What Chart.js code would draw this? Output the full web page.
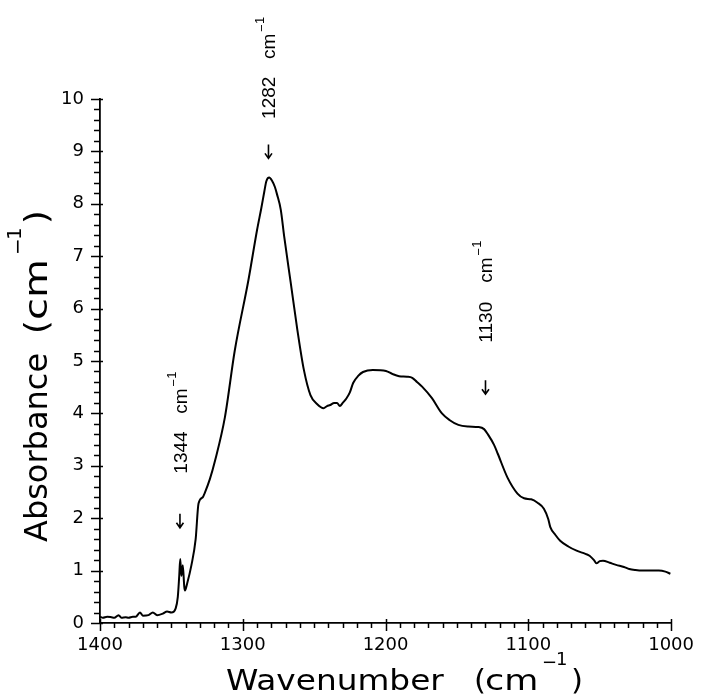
<!DOCTYPE html>
<html>
<head>
<meta charset="utf-8">
<script src="https://cdn.jsdelivr.net/npm/chart.js@4/dist/chart.umd.min.js"></script>
<style>
html,body{margin:0;padding:0;background:#fff;}
#wrap{width:706px;height:694px;position:relative;}
</style>
</head>
<body>
<div id="wrap"><canvas id="c" width="706" height="694"></canvas></div>
<script>
// Wavenumber (cm^-1) of each sampled point
const wavenumber = [
 1400,1398,1395,1392,1390,1387,1385,1382,1380,1377,1375,1372,1370,1366,1363,1360,1356,1353,1350,1347,
 1345.5,1344.5,1343.8,1343,1342,1341,1340.5,1339,1336,1333,1331,1328,1326.8,1323,1319.4,1312.5,1305.6,1296,1290,1287,
 1285,1283.5,1281.5,1279.5,1277.5,1276,1273.4,1271,1266.4,1261.8,1257.2,1252.6,1248,1243.4,1241,1238.8,1236,1234,1232,
 1230,1227.3,1225,1222.7,1219,1215.8,1208.9,1199.7,1195,1190.5,1185,1181.3,1178,1174.4,1167.5,1160.5,1155,1149,1142,1135,
 1131,1128.3,1124,1121.4,1114.5,1107.6,1103,1098,1093.8,1089.1,1086,1084.6,1081,1077.7,1072,1066.2,1060,1056.9,1054,1052.3,
 1050,1047.7,1043,1038.5,1033,1029.3,1025,1020,1014,1008.6,1004,1000.5
];
// Absorbance (cm^-1)
const absorbance = [
 0.12,0.10,0.12,0.11,0.10,0.15,0.10,0.11,0.10,0.12,0.12,0.20,0.14,0.15,0.20,0.15,0.18,0.22,0.20,0.28,
 0.50,0.90,1.22,0.90,1.10,0.70,0.62,0.75,1.10,1.60,2.28,2.40,2.47,2.75,3.10,3.93,5.20,6.55,7.50,7.92,
 8.22,8.43,8.50,8.44,8.32,8.18,7.89,7.38,6.49,5.60,4.83,4.35,4.18,4.10,4.14,4.16,4.20,4.20,4.14,
 4.20,4.29,4.40,4.58,4.72,4.79,4.83,4.81,4.75,4.71,4.70,4.68,4.60,4.51,4.29,4.00,3.87,3.78,3.75,3.74,
 3.70,3.60,3.40,3.23,2.77,2.47,2.38,2.36,2.30,2.18,1.98,1.83,1.68,1.57,1.46,1.38,1.32,1.28,1.20,1.14,
 1.18,1.19,1.15,1.11,1.07,1.03,1.01,1.00,1.00,1.00,0.98,0.94
];
// Annotated bands
const bandLabels = ['1344', '1282', '1130'];
const bandWavenumber = [1344, 1282, 1130];
const arrowAbsorbance = [1.95, 9.0, 4.5];   // level of arrow centre
const labelAbsorbance = [2.85, 9.62, 5.35]; // level where rotated label starts

const xRange = [1000, 1400];
const yRange = [0, 10];

const points = wavenumber.map((w, i) => ({x: w, y: absorbance[i]}));

function isMajor(v, step) {
  const r = v / step;
  return Math.abs(r - Math.round(r)) < 1e-6;
}

// draw a sequence of text parts along a baseline: each part {t, size, at (advance from start), up (raise), sx}
function drawParts(ctx, family, parts) {
  parts.forEach(p => {
    ctx.save();
    ctx.translate(p.at, -(p.up || 0));
    ctx.scale(p.sx || 1, 1);
    ctx.font = p.size + 'px ' + family;
    ctx.fillText(p.t, 0, 0);
    ctx.restore();
  });
}

const tickMarks = {
  id: 'tickMarks',
  afterDraw(chart) {
    const {ctx, chartArea, scales: {x, y}} = chart;
    ctx.save();
    ctx.strokeStyle = '#000';
    ctx.fillStyle = '#000';
    ctx.lineWidth = 1.5;
    ctx.beginPath();
    x.ticks.forEach(t => {
      const px = Math.round(x.getPixelForValue(t.value)) + 0.5;
      const major = isMajor(t.value, 100);
      ctx.moveTo(px, chartArea.bottom - (major ? 4 : 0));
      ctx.lineTo(px, chartArea.bottom + (major ? 8 : 5));
    });
    y.ticks.forEach(t => {
      const py = Math.round(y.getPixelForValue(t.value)) + 0.5;
      const major = isMajor(t.value, 1);
      ctx.moveTo(chartArea.left - (major ? 9 : 6), py);
      ctx.lineTo(chartArea.left + (major ? 3 : 0), py);
    });
    ctx.stroke();

    ctx.textAlign = 'left';
    ctx.textBaseline = 'alphabetic';

    // x axis title
    ctx.save();
    ctx.translate(226, 690);
    drawParts(ctx, '"DejaVu Sans"', [
      {t: 'Wavenumber', size: 28, at: 0, sx: 1.17},
      {t: '(', size: 28, at: 248, sx: 1.1},
      {t: 'cm', size: 28, at: 259, sx: 1.25},
      {t: '\u2212', size: 18, at: 316, up: 22},
      {t: '1', size: 18, at: 330, up: 25},
      {t: ')', size: 28, at: 345, sx: 1.1}
    ]);
    ctx.restore();

    // y axis title
    ctx.save();
    ctx.translate(47, 542);
    ctx.rotate(-Math.PI / 2);
    drawParts(ctx, '"DejaVu Sans"', [
      {t: 'Absorbance', size: 32, at: 0, sx: 1.0},
      {t: '(', size: 32, at: 208, sx: 1.1},
      {t: 'cm', size: 32, at: 222, sx: 1.25},
      {t: '\u2212', size: 20, at: 287, up: 23},
      {t: '1', size: 20, at: 302, up: 26},
      {t: ')', size: 32, at: 318, sx: 1.1}
    ]);
    ctx.restore();

    // band annotations
    bandLabels.forEach((lab, i) => {
      const px = x.getPixelForValue(bandWavenumber[i]);
      const pyA = y.getPixelForValue(arrowAbsorbance[i]);
      const pyL = y.getPixelForValue(labelAbsorbance[i]);
      // arrow
      ctx.beginPath();
      ctx.lineWidth = 1.6;
      ctx.moveTo(px, pyA - 7);
      ctx.lineTo(px, pyA + 7);
      ctx.moveTo(px - 3.5, pyA + 2);
      ctx.lineTo(px, pyA + 7);
      ctx.lineTo(px + 3.5, pyA + 2);
      ctx.stroke();
      // rotated label
      ctx.save();
      ctx.translate(px + 7, pyL);
      ctx.rotate(-Math.PI / 2);
      drawParts(ctx, '"Liberation Sans"', [
        {t: lab, size: 19, at: 0},
        {t: 'cm', size: 19, at: 60},
        {t: '\u2212', size: 13, at: 87, up: 9},
        {t: '1', size: 13, at: 95, up: 11}
      ]);
      ctx.restore();
    });
    ctx.restore();
  }
};

new Chart(document.getElementById('c'), {
  type: 'line',
  data: {
    datasets: [{
      data: points,
      borderColor: '#000',
      borderWidth: 2,
      pointRadius: 0,
      cubicInterpolationMode: 'monotone',
      fill: false
    }]
  },
  options: {
    responsive: false,
    animation: false,
    devicePixelRatio: 1,
    layout: {padding: {top: 99, right: 27, left: 0, bottom: 0}},
    plugins: {legend: {display: false}, tooltip: {enabled: false}},
    scales: {
      x: {
        type: 'linear',
        reverse: true,
        min: xRange[0], max: xRange[1],
        afterFit: s => { s.height = 71; },
        border: {display: true, color: '#000', width: 1.8},
        grid: {display: false, drawTicks: false},
        ticks: {
          stepSize: 10, autoSkip: false, maxRotation: 0, padding: 12,
          color: '#000', font: {family: 'DejaVu Sans', size: 18},
          callback: v => isMajor(v, 100) ? String(Math.round(v)) : ''
        }
      },
      y: {
        type: 'linear',
        min: yRange[0], max: yRange[1],
        afterFit: s => { s.width = 100; },
        border: {display: true, color: '#000', width: 1.8},
        grid: {display: false, drawTicks: false},
        ticks: {
          stepSize: 0.2, autoSkip: false, padding: 16,
          color: '#000', font: {family: 'DejaVu Sans', size: 18},
          callback: v => isMajor(v, 1) ? String(Math.round(v)) : ''
        }
      }
    }
  },
  plugins: [tickMarks]
});
</script>
</body>
</html>
